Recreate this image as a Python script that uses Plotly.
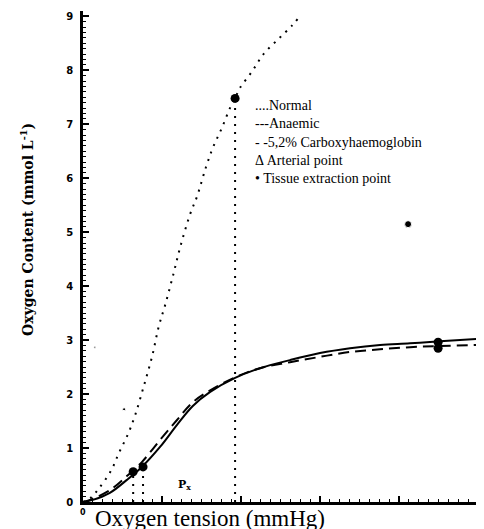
import plotly.graph_objects as go

# ---- data ----
normal_x = [0, 2.0, 4.1, 7.1, 9.1, 11.4, 13.2, 15.4, 17.5, 19.2, 20.8, 22.8, 24.6, 27.1, 28.9, 31.1, 32.9, 35.2, 37.2, 38.5, 39.7, 42.8, 45.8, 49.6, 52.9, 54.4]
normal_y = [0, 0.08, 0.26, 0.58, 0.91, 1.26, 1.61, 2.15, 2.70, 3.26, 3.65, 4.20, 4.72, 5.33, 5.67, 6.20, 6.57, 6.94, 7.30, 7.48, 7.67, 7.98, 8.31, 8.59, 8.83, 8.96]

solid_x = [0, 2.5, 6.8, 11.1, 14.9, 19.5, 23.8, 27.8, 32.2, 38.5, 44.8, 52.4, 60.0, 67.6, 75.2, 82.8, 90.4, 99.7]
solid_y = [0, 0.04, 0.17, 0.41, 0.65, 1.02, 1.43, 1.78, 2.04, 2.30, 2.48, 2.63, 2.76, 2.85, 2.91, 2.94, 2.98, 3.02]

dashed_x = [0, 1.8, 6.8, 11.1, 14.9, 19.5, 23.8, 27.8, 32.2, 38.5, 44.8, 52.4, 60.0, 67.6, 75.2, 82.8, 90.4, 99.7]
dashed_y = [0, 0.04, 0.22, 0.48, 0.74, 1.15, 1.52, 1.85, 2.07, 2.31, 2.48, 2.59, 2.69, 2.78, 2.83, 2.87, 2.89, 2.91]

point_x = [38.5, 12.7, 15.2, 89.9, 89.9]
point_y = [7.48, 0.56, 0.65, 2.96, 2.85]

drop_x = [38.5, 12.7, 15.2]
drop_y = [7.48, 0.56, 0.65]

speck_x = [10.4, 3.0, 82.3]
speck_y = [1.72, 2.87, 5.15]
speck_size = [3, 2, 7]

legend_lines = ["....Normal", "---Anaemic", "- -5,2% Carboxyhaemoglobin",
                "\u0394 Arterial point", "\u2022 Tissue extraction point"]
legend_y = [7.35, 7.02, 6.67, 6.33, 6.0]

y_ticks = [0, 1, 2, 3, 4, 5, 6, 7, 8, 9]
x_ticks = [0, 20, 40, 60, 80, 100]

fig = go.Figure()

# drop lines
for xv, yv in zip(drop_x, drop_y):
    fig.add_trace(go.Scatter(x=[xv, xv], y=[0, yv], mode="lines",
                             line=dict(color="black", width=2, dash="2px,6px"),
                             showlegend=False, hoverinfo="skip"))

fig.add_trace(go.Scatter(x=normal_x, y=normal_y, mode="lines", line_shape="spline",
                         line=dict(color="black", width=2, dash="2px,6px"), showlegend=False))
fig.add_trace(go.Scatter(x=dashed_x, y=dashed_y, mode="lines", line_shape="spline",
                         line=dict(color="black", width=2, dash="11px,6px"), showlegend=False))
fig.add_trace(go.Scatter(x=solid_x, y=solid_y, mode="lines", line_shape="spline",
                         line=dict(color="black", width=2), showlegend=False))
fig.add_trace(go.Scatter(x=point_x, y=point_y, mode="markers",
                         marker=dict(color="black", size=9), showlegend=False))
fig.add_trace(go.Scatter(x=speck_x, y=speck_y, mode="markers",
                         marker=dict(color="black", size=speck_size, opacity=1), showlegend=False))

annotations = []
for txt, yv in zip(legend_lines, legend_y):
    annotations.append(dict(x=43.0, y=yv, xref="x", yref="y", text=txt, showarrow=False,
                            xanchor="left", yanchor="middle",
                            font=dict(family="Liberation Serif", size=14, color="black")))
annotations.append(dict(x=25.8, y=0.31, xref="x", yref="y", text="<b>P<sub>x</sub></b>",
                        showarrow=False, xanchor="center", yanchor="middle",
                        font=dict(family="DejaVu Serif", size=11, color="black")))
annotations.append(dict(x=-0.142, y=0.556, xref="paper", yref="paper", textangle=-90,
                        xanchor="center", yanchor="middle",
                        text="<b>Oxygen Content (mmol L<sup>-1</sup>)</b>", showarrow=False,
                        font=dict(family="DejaVu Serif", size=14, color="black")))
annotations.append(dict(x=0.322, y=-0.034, xref="paper", yref="paper",
                        xanchor="center", yanchor="middle",
                        text="Oxygen tension (mmHg)", showarrow=False,
                        font=dict(family="Liberation Serif", size=23, color="black")))
annotations.append(dict(x=0.0, y=-0.022, xref="paper", yref="paper",
                        xanchor="center", yanchor="middle",
                        text="<b>0</b>", showarrow=False,
                        font=dict(family="DejaVu Sans", size=8, color="black")))

# page body has an 8px margin, so the figure is sized / offset to compensate
fig.update_layout(
    width=476, height=521,
    margin=dict(l=75, r=6, t=3, b=27),
    paper_bgcolor="white", plot_bgcolor="white",
    annotations=annotations,
    xaxis=dict(range=[0, 100], tickvals=x_ticks, showticklabels=False,
               ticks="inside", ticklen=6, tickwidth=1.5, tickcolor="black",
               minor=dict(dtick=2.5, ticks="inside", ticklen=3, tickwidth=1, tickcolor="black"),
               showline=True, linewidth=2.5, linecolor="black",
               showgrid=False, zeroline=False),
    yaxis=dict(range=[0, 9.1], tickvals=y_ticks,
               ticks="inside", ticklen=6, tickwidth=1.5, tickcolor="black",
               minor=dict(dtick=0.1, ticks="inside", ticklen=3, tickwidth=1, tickcolor="black"),
               tickfont=dict(family="DejaVu Sans", size=10, color="black", weight="bold"),
               ticklabelstandoff=5,
               showline=True, linewidth=2.5, linecolor="black",
               showgrid=False, zeroline=False),
)

fig.write_html("out.html")
